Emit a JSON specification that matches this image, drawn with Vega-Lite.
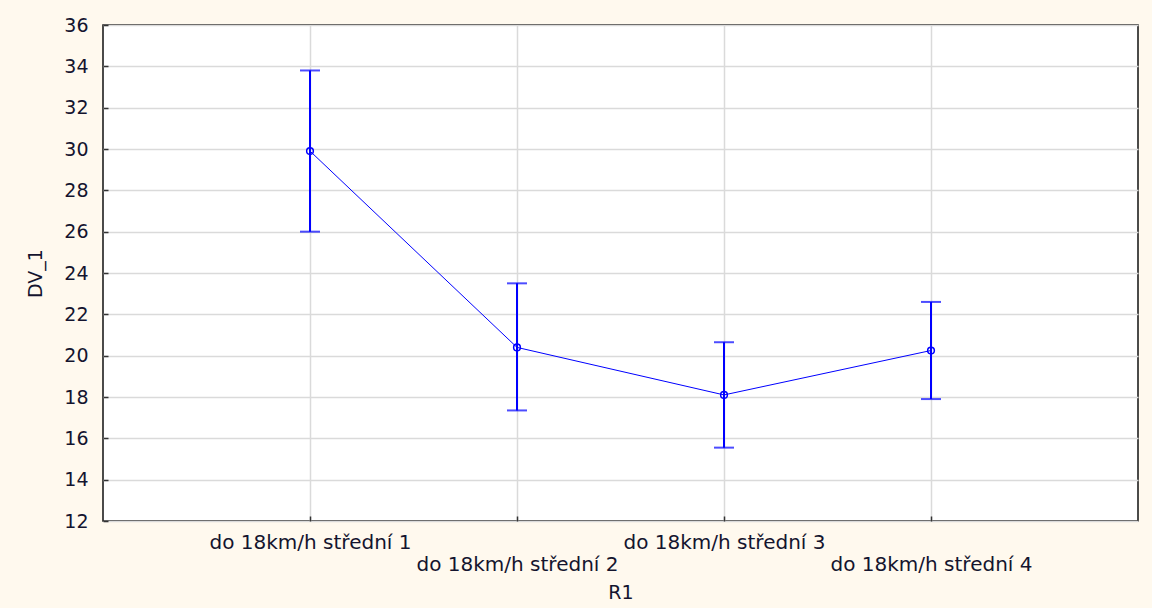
{
  "$schema": "https://vega.github.io/schema/vega-lite/v6.json",
  "autosize": {"type": "none"},
  "padding": {"left": 103, "top": 25, "right": 14, "bottom": 87},
  "width": 1035,
  "height": 496,
  "background": "#FFF9EE",
  "data": {
    "values": [
      {"R1": "do 18km/h střední 1", "mean": 29.9, "lo": 26.0, "hi": 33.8},
      {"R1": "do 18km/h střední 2", "mean": 20.4, "lo": 17.35, "hi": 23.5},
      {"R1": "do 18km/h střední 3", "mean": 18.1, "lo": 15.55, "hi": 20.65},
      {"R1": "do 18km/h střední 4", "mean": 20.25, "lo": 17.9, "hi": 22.6}
    ]
  },
  "config": {
    "view": {"fill": "white", "stroke": "#111111", "strokeWidth": 1.5},
    "font": "DejaVu Sans",
    "axis": {
      "labelFont": "DejaVu Sans",
      "titleFont": "DejaVu Sans",
      "labelFontSize": 19,
      "titleFontSize": 19,
      "labelColor": "#14142e",
      "titleColor": "#14142e",
      "titleFontWeight": "normal",
      "labelLimit": 0,
      "labelOverlap": false,
      "domain": false,
      "gridColor": "#DADADA",
      "gridWidth": 1.5,
      "tickColor": "#333333",
      "tickSize": -5,
      "tickWidth": 1.5
    }
  },
  "encoding": {
    "x": {
      "field": "R1",
      "type": "nominal",
      "sort": null,
      "scale": {"type": "point", "padding": 1},
      "axis": {
        "title": "R1",
        "labelAngle": 0,
        "labelFontSize": 20,
        "labelPadding": 16,
        "labelLineHeight": 22,
        "labelExpr": "toNumber(slice(datum.label, -1)) % 2 == 0 ? ['', datum.label] : datum.label",
        "titlePadding": 9,
        "grid": true
      }
    }
  },
  "layer": [
    {
      "mark": {"type": "line", "color": "#0000FF", "strokeWidth": 1},
      "encoding": {
        "y": {
          "field": "mean",
          "type": "quantitative",
          "scale": {"domain": [12, 36], "nice": false, "zero": false},
          "axis": {
            "title": "DV_1",
            "values": [12, 14, 16, 18, 20, 22, 24, 26, 28, 30, 32, 34, 36],
            "labelPadding": 20,
            "titlePadding": 18,
            "grid": true
          }
        }
      }
    },
    {
      "mark": {"type": "rule", "color": "#0000FF", "strokeWidth": 2},
      "encoding": {
        "y": {"field": "lo", "type": "quantitative"},
        "y2": {"field": "hi"}
      }
    },
    {
      "mark": {"type": "tick", "color": "#0000FF", "size": 20, "thickness": 2, "orient": "horizontal"},
      "encoding": {"y": {"field": "hi", "type": "quantitative"}}
    },
    {
      "mark": {"type": "tick", "color": "#0000FF", "size": 20, "thickness": 2, "orient": "horizontal"},
      "encoding": {"y": {"field": "lo", "type": "quantitative"}}
    },
    {
      "mark": {"type": "point", "shape": "circle", "filled": false, "color": "#0000FF", "size": 45, "strokeWidth": 1.5, "opacity": 1},
      "encoding": {"y": {"field": "mean", "type": "quantitative"}}
    }
  ]
}
